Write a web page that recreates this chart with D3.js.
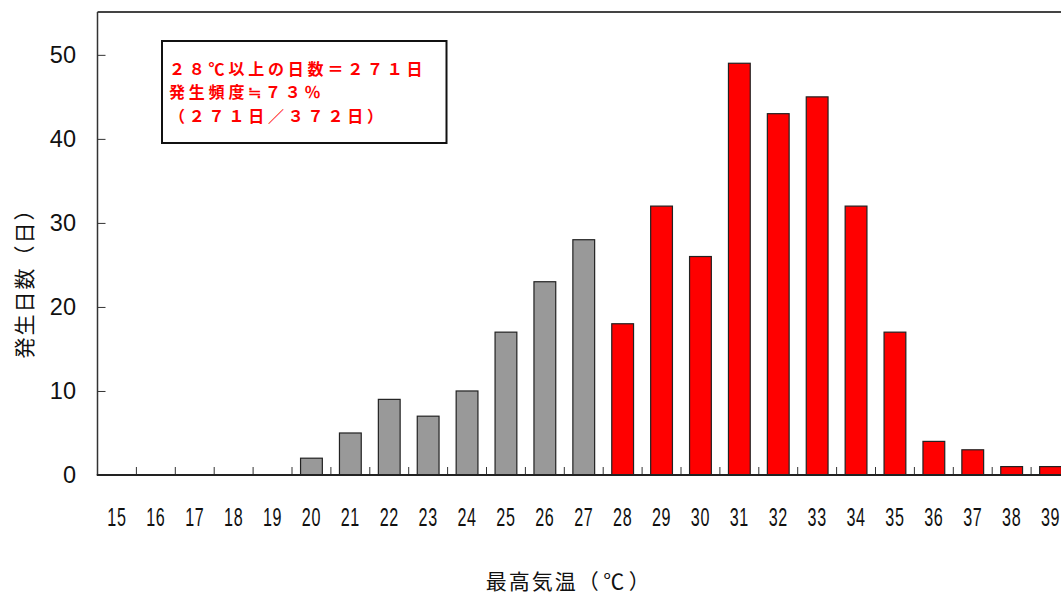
<!DOCTYPE html>
<html><head><meta charset="utf-8">
<script src="https://cdn.jsdelivr.net/npm/d3@7"></script>
<style>body{margin:0;background:#fff;}svg{display:block;}</style>
</head><body>
<svg id="c" width="1061" height="594"></svg>
<script>
const categories = ["15","16","17","18","19","20","21","22","23","24","25","26","27","28","29","30","31","32","33","34","35","36","37","38","39"];
const days = [0,0,0,0,0,2,5,9,7,10,17,23,28,18,32,26,49,43,45,32,17,4,3,1,1];
const yTicks = [0,10,20,30,40,50];
const threshold = 28;
const noteLines = ["２８℃以上の日数＝２７１日","発生頻度≒７３％","（２７１日／３７２日）"];
const yTitle = "発生日数（日）";
const xTitle = "最高気温（℃）";

const svg = d3.select("#c");
const L = 97.5, T = 12, B = 475, R = 1070;
const x = d3.scaleBand().domain(categories).range([L, R]).paddingInner(0.44).paddingOuter(0.22);
const xb = d3.scaleBand().domain(categories).range([L, R]);
const y = d3.scaleLinear().domain([0, 55.1]).range([B, T]);
const font = "'Noto Sans CJK JP', 'Noto Sans', sans-serif";
const numFont = "'Liberation Sans', Arial, sans-serif";

// bars
svg.append("g").selectAll("rect").data(categories).join("rect")
  .attr("x", d => x(d)).attr("width", x.bandwidth())
  .attr("y", (d,i) => y(days[i])).attr("height", (d,i) => B - y(days[i]))
  .attr("fill", d => +d >= threshold ? "#ff0000" : "#999999")
  .attr("stroke", "#222").attr("stroke-width", 1.2)
  .style("display", (d,i) => days[i] > 0 ? null : "none");

// frame: top line
svg.append("line").attr("x1", L).attr("x2", 1061).attr("y1", T).attr("y2", T)
  .attr("stroke", "#444").attr("stroke-width", 2);

// y axis
const yAxis = d3.axisRight(y).tickValues(yTicks).tickSize(8).tickFormat("");
const gy = svg.append("g").attr("transform", `translate(${L},0)`).call(yAxis);
gy.select(".domain").attr("d", `M0,${T}V${B}`).attr("stroke", "#333").attr("stroke-width", 1.5);
gy.selectAll(".tick line").attr("stroke", "#333");
svg.append("g").selectAll("text").data(yTicks).join("text")
  .attr("x", 76).attr("y", d => y(d)).attr("dy", "0.36em")
  .attr("text-anchor", "end").attr("font-family", numFont).attr("font-size", 23.5)
  .attr("fill", "#111").text(d => d);

// x axis: ticks at band boundaries, pointing up
const bounds = categories.slice(1).map(c => xb(c));
svg.append("g").selectAll("line").data(bounds).join("line")
  .attr("x1", d => d).attr("x2", d => d).attr("y1", B).attr("y2", B - 8)
  .attr("stroke", "#333").attr("stroke-width", 1);
svg.append("line").attr("x1", L - 0.75).attr("x2", 1061).attr("y1", B).attr("y2", B)
  .attr("stroke", "#222").attr("stroke-width", 2);
svg.append("g").selectAll("text").data(categories).join("text")
  .attr("transform", d => `translate(${xb(d) + xb.bandwidth()/2},517) scale(0.62,1)`)
  .attr("dy", "0.36em")
  .attr("text-anchor", "middle").attr("font-family", numFont).attr("font-size", 26)
  .attr("letter-spacing", 1).attr("fill", "#111").text(d => d);

// titles
svg.append("text").attr("transform", "translate(24,278) rotate(-90)")
  .attr("text-anchor", "middle").attr("dy", "0.36em").attr("font-family", font)
  .attr("font-size", 21).attr("letter-spacing", 2).attr("fill", "#111").text(yTitle);
const xt = svg.append("text").attr("x", 570).attr("y", 581).attr("dy", "0.36em")
  .attr("text-anchor", "middle").attr("font-family", font)
  .attr("font-size", 21).attr("fill", "#111");
xt.append("tspan").attr("letter-spacing", 2).text(xTitle.slice(0, 4));
xt.append("tspan").attr("letter-spacing", 4.5).text(xTitle.slice(4));

// note box
svg.append("rect").attr("x", 162).attr("y", 41).attr("width", 284.5).attr("height", 102)
  .attr("fill", "#fff").attr("stroke", "#111").attr("stroke-width", 2);
const note = svg.append("text").attr("font-family", font).attr("font-size", 16)
  .attr("font-weight", "bold").attr("letter-spacing", 3.8).attr("fill", "#ff0000");
note.selectAll("tspan").data(noteLines).join("tspan")
  .attr("x", 169).attr("y", (d,i) => 69 + i*23.5).attr("dy", "0.36em").text(d => d);
</script>
</body></html>
